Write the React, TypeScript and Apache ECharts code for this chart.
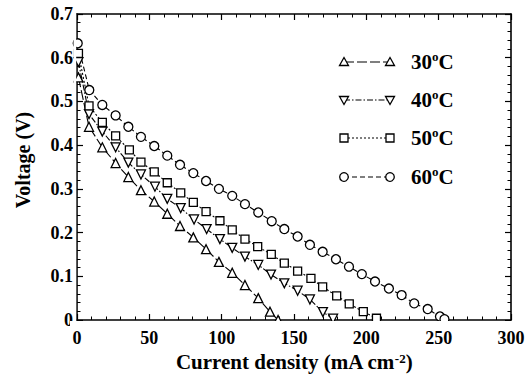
import React, { useEffect, useRef } from "react";
import * as echarts from "echarts";

const FONT = "Liberation Serif";

const seriesNames = ["30", "40", "50", "60"];

const x30 = [1, 8.3, 17.5, 26.7, 35.5, 44.2, 53.4, 62.4, 71.2, 80.4, 89.2, 98.1, 107.3, 116.1, 125.3, 133.4, 139];
const v30 = [0.555, 0.442, 0.395, 0.359, 0.327, 0.297, 0.271, 0.243, 0.215, 0.189, 0.162, 0.133, 0.108, 0.080, 0.050, 0.019, 0.0];

const x40 = [1, 8.3, 17.5, 26.7, 35.5, 44.2, 53.9, 62.4, 71.7, 80.9, 89.6, 98.8, 107.3, 116.1, 125.3, 134.1, 143.3, 152.5, 161, 170, 177];
const v40 = [0.59, 0.471, 0.431, 0.395, 0.36, 0.333, 0.305, 0.277, 0.256, 0.23, 0.208, 0.185, 0.165, 0.145, 0.126, 0.104, 0.084, 0.067, 0.047, 0.018, 0.003];

const x50 = [1, 8.3, 17.5, 26.7, 36.2, 44.2, 53.4, 62.4, 71.7, 80.4, 89.2, 98.8, 107.3, 116.1, 124.9, 134.3, 143.3, 152.5, 161.7, 169.8, 179.5, 188.2, 197.9, 207];
const v50 = [0.61, 0.49, 0.452, 0.421, 0.389, 0.361, 0.339, 0.314, 0.291, 0.269, 0.248, 0.227, 0.206, 0.185, 0.168, 0.15, 0.13, 0.112, 0.095, 0.076, 0.055, 0.037, 0.019, 0.004];

const x60 = [0.5, 8.5, 17.5, 26.7, 35.5, 44.2, 53.4, 62.4, 71.2, 80.4, 89.2, 98.1, 107.3, 116.1, 125.3, 134.6, 143.3, 152.5, 161, 169.8, 179, 188, 196.9, 206, 215.6, 224.4, 233.1, 242.4, 250.9, 254];
const v60 = [0.633, 0.526, 0.492, 0.468, 0.442, 0.419, 0.398, 0.376, 0.355, 0.336, 0.318, 0.3, 0.284, 0.265, 0.246, 0.226, 0.208, 0.191, 0.172, 0.156, 0.139, 0.122, 0.105, 0.088, 0.072, 0.057, 0.038, 0.025, 0.008, 0.002];

const xTicks = { min: 0, max: 300, interval: 50 };
const yTicks = { min: 0, max: 0.7, interval: 0.1 };

const symbols = ["triangle", "triangle", "rect", "circle"];
const symbolRotates = [0, 180, 0, 0];
const symbolSizes = [9, 9, 8, 9];
const dashes: any[] = [[10, 3], [6, 2, 1.5, 2], [2, 2], [5, 3]];

const xs = [x30, x40, x50, x60];
const vs = [v30, v40, v50, v60];

export default function App() {
  const ref = useRef<HTMLDivElement>(null);
  useEffect(() => {
    if (!ref.current) return;
    const chart = echarts.init(ref.current, null, { renderer: "svg" });

    const tickCommon = () => ({
      axisLine: { show: true, onZero: false, lineStyle: { color: "#000", width: 1.6 } },
      axisTick: { show: true, inside: true, length: 6, lineStyle: { color: "#000", width: 1.2 } },
      minorTick: { show: true, splitNumber: 5, length: 3.5, lineStyle: { color: "#000", width: 1 } },
      splitLine: { show: false },
      minorSplitLine: { show: false },
    });

    const supRich = {
      b: { fontFamily: FONT, fontWeight: "bold", fontSize: 21, color: "#000", lineHeight: 24 },
      sup: { fontFamily: FONT, fontWeight: "bold", fontSize: 13, color: "#000", lineHeight: 13, verticalAlign: "top" },
    };

    const series = xs.map((xa, i) => ({
      type: "line",
      name: seriesNames[i],
      data: xa.map((x, j) => [x, vs[i][j]]),
      symbol: symbols[i],
      symbolRotate: symbolRotates[i],
      symbolSize: symbolSizes[i],
      showAllSymbol: true,
      clip: false,
      lineStyle: { color: "#000", width: 1.1, type: dashes[i] },
      itemStyle: { color: "#fff", borderColor: "#000", borderWidth: 1.3 },
      z: 3,
    }));

    // Legend drawn as graphic elements
    const legendYs = [62, 100, 138, 177];
    const lx1 = 344, lx2 = 390, tx = 411;
    const mk = (kind: number, cx: number, cy: number) => {
      const st = { fill: "#fff", stroke: "#000", lineWidth: 1.3 };
      if (kind === 0) return { type: "polygon", shape: { points: [[cx, cy - 4.5], [cx + 4.5, cy + 3.5], [cx - 4.5, cy + 3.5]] }, style: st, z: 10 };
      if (kind === 1) return { type: "polygon", shape: { points: [[cx, cy + 4.5], [cx + 4.5, cy - 3.5], [cx - 4.5, cy - 3.5]] }, style: st, z: 10 };
      if (kind === 2) return { type: "rect", shape: { x: cx - 4, y: cy - 4, width: 8, height: 8 }, style: st, z: 10 };
      return { type: "circle", shape: { cx, cy, r: 4.3 }, style: st, z: 10 };
    };
    const graphics: any[] = [];
    legendYs.forEach((y, i) => {
      graphics.push({ type: "line", shape: { x1: lx1, y1: y, x2: lx2, y2: y }, style: { stroke: "#000", lineWidth: 1.1, lineDash: dashes[i] }, z: 9 });
      graphics.push(mk(i, lx1, y));
      graphics.push(mk(i, lx2, y));
      graphics.push({
        type: "text",
        x: tx,
        y: y,
        style: {
          text: `{b|${seriesNames[i]}}{sup|o}{b|C}`,
          rich: supRich,
          verticalAlign: "middle",
          align: "left",
        },
        z: 10,
      });
    });
    // white masks so that markers sitting on the axes look cut by the frame
    graphics.push({ type: "rect", shape: { x: 70, y: 320.9, width: 450, height: 7 }, style: { fill: "#fff" }, z: 8, silent: true });
    graphics.push({ type: "rect", shape: { x: 73.5, y: 14, width: 2.7, height: 306 }, style: { fill: "#fff" }, z: 8, silent: true });

    chart.setOption({
      animation: false,
      backgroundColor: "#fff",
      textStyle: { fontFamily: FONT, fontWeight: "bold", color: "#000" },
      grid: { left: 77, right: 15, top: 14, bottom: 55, containLabel: false, outerBoundsMode: "none" },
      xAxis: [
        {
          type: "value",
          position: "bottom",
          ...xTicks,
          ...tickCommon(),
          axisLabel: { show: true, margin: 9, fontFamily: FONT, fontWeight: "bold", fontSize: 18, color: "#000" },
          name: "Current density (mA cm{sup|-2})",
          nameLocation: "middle",
          nameGap: 29,
          nameTextStyle: {
            fontFamily: FONT, fontWeight: "bold", fontSize: 21, color: "#000",
            rich: {
              sup: { fontFamily: FONT, fontWeight: "bold", fontSize: 13, color: "#000", lineHeight: 13, verticalAlign: "top" },
            },
          },
        },
        {
          type: "value",
          position: "top",
          ...xTicks,
          ...tickCommon(),
          axisLabel: { show: false },
        },
      ],
      yAxis: [
        {
          type: "value",
          position: "left",
          ...yTicks,
          ...tickCommon(),
          axisLabel: { show: true, margin: 4, fontFamily: FONT, fontWeight: "bold", fontSize: 18, color: "#000" },
          name: "Voltage (V)",
          nameLocation: "middle",
          nameGap: 44,
          nameTextStyle: { fontFamily: FONT, fontWeight: "bold", fontSize: 20, color: "#000", padding: [0, 0, 0, 14] },
        },
        {
          type: "value",
          position: "right",
          ...yTicks,
          ...tickCommon(),
          axisLabel: { show: false },
        },
      ],
      series,
      graphic: graphics,
    });

    return () => chart.dispose();
  }, []);
  return <div ref={ref} style={{ width: 526, height: 375, position: "absolute", left: 0, top: 0 }} />;
}
